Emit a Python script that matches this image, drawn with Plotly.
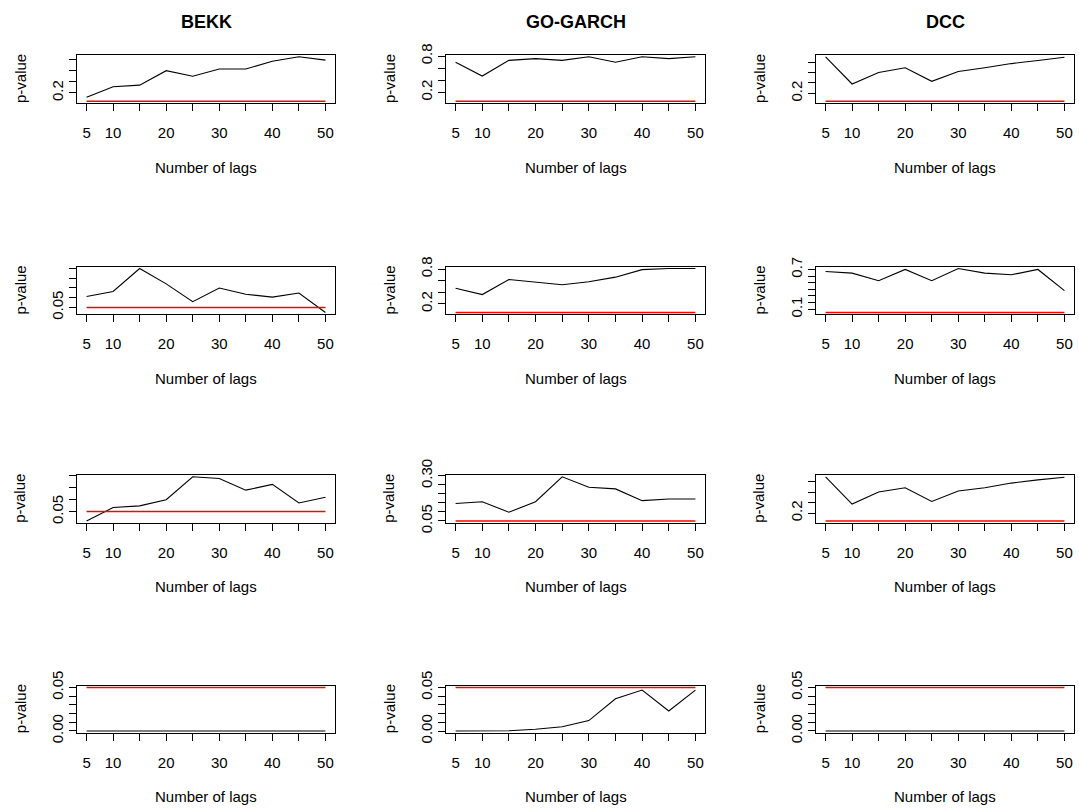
import plotly.graph_objects as go

lags = [5, 10, 15, 20, 25, 30, 35, 40, 45, 50]
x_tick_vals = [5, 10, 15, 20, 25, 30, 35, 40, 45, 50]
x_tick_text = ["5", "10", "", "20", "", "30", "", "40", "", "50"]
col_titles = ["BEKK", "GO-GARCH", "DCC"]
threshold = 0.05

# p-values (rows top to bottom, columns BEKK / GO-GARCH / DCC)
bekk_r1 = [0.12, 0.31, 0.34, 0.60, 0.50, 0.63, 0.63, 0.77, 0.85, 0.79]
gogarch_r1 = [0.70, 0.47, 0.73, 0.76, 0.73, 0.79, 0.70, 0.79, 0.76, 0.79]
dcc_r1 = [0.90, 0.38, 0.60, 0.69, 0.43, 0.62, 0.69, 0.77, 0.83, 0.89]

bekk_r2 = [0.106, 0.132, 0.250, 0.171, 0.080, 0.150, 0.118, 0.103, 0.124, 0.024]
gogarch_r2 = [0.47, 0.36, 0.62, 0.58, 0.53, 0.58, 0.66, 0.79, 0.81, 0.81]
dcc_r2 = [0.67, 0.645, 0.53, 0.70, 0.53, 0.715, 0.645, 0.62, 0.70, 0.38]

bekk_r3 = [0.011, 0.067, 0.074, 0.100, 0.196, 0.189, 0.140, 0.164, 0.086, 0.110]
gogarch_r3 = [0.146, 0.156, 0.098, 0.156, 0.294, 0.236, 0.227, 0.162, 0.171, 0.171]
dcc_r3 = [0.89, 0.37, 0.60, 0.68, 0.42, 0.62, 0.68, 0.77, 0.83, 0.88]

bekk_r4 = [0, 0, 0, 0, 0, 0, 0, 0, 0, 0]
gogarch_r4 = [0.0001, 0.0001, 0.0003, 0.002, 0.005, 0.012, 0.037, 0.047, 0.023, 0.047]
dcc_r4 = [0, 0, 0, 0, 0, 0, 0, 0, 0, 0]

panels = [
    [bekk_r1, gogarch_r1, dcc_r1],
    [bekk_r2, gogarch_r2, dcc_r2],
    [bekk_r3, gogarch_r3, dcc_r3],
    [bekk_r4, gogarch_r4, dcc_r4],
]

yt_02 = ([0.2, 0.4, 0.6, 0.8], ["0.2", "", "", ""])
yt_0208 = ([0.2, 0.4, 0.6, 0.8], ["0.2", "", "", "0.8"])
y_ticks = [
    [yt_02, yt_0208, yt_02],
    [([0.05, 0.10, 0.15, 0.20, 0.25], ["0.05", "", "", "", ""]), yt_0208,
     ([0.1, 0.2, 0.3, 0.4, 0.5, 0.6, 0.7], ["0.1", "", "", "", "", "", "0.7"])],
    [([0.05, 0.10, 0.15, 0.20], ["0.05", "", "", ""]),
     ([0.05, 0.10, 0.15, 0.20, 0.25, 0.30], ["0.05", "", "", "", "", "0.30"]), yt_02],
    [([0, 0.01, 0.02, 0.03, 0.04, 0.05], ["0.00", "", "", "", "", "0.05"])] * 3,
]

W, H = 1079, 809
col_px = [(77, 335), (446, 705), (816, 1074)]
row_px = [(55, 103), (266.7, 314.3), (475, 522.7), (685.7, 732.7)]

FONT = "Liberation Sans, Arial, sans-serif"
fig = go.Figure()
annotations = []

k = 0
for r in range(4):
    for c in range(3):
        k += 1
        vals = panels[r][c]
        xa = "x" if k == 1 else f"x{k}"
        ya = "y" if k == 1 else f"y{k}"
        fig.add_trace(go.Scatter(x=lags, y=vals, mode="lines",
                                 line=dict(color="black", width=1.1),
                                 xaxis=xa, yaxis=ya, showlegend=False, hoverinfo="skip"))
        fig.add_trace(go.Scatter(x=lags, y=[threshold] * len(lags), mode="lines",
                                 line=dict(color="#ff0000", width=1.5),
                                 xaxis=xa, yaxis=ya, showlegend=False, hoverinfo="skip"))
        lo = min(min(vals), threshold)
        hi = max(max(vals), threshold)
        pad = 0.04 * (hi - lo)
        x0, x1 = col_px[c]
        t, b = row_px[r]
        xd = [x0 / W, x1 / W]
        yd = [1 - b / H, 1 - t / H]
        tv, tt = y_ticks[r][c]
        axis_common = dict(showgrid=False, zeroline=False, showline=True, mirror=True,
                           automargin=False,
                           linecolor="black", linewidth=1, ticks="outside", ticklen=7,
                           tickwidth=1, tickcolor="black",
                           tickfont=dict(family=FONT, size=15, color="black"))
        fig.update_layout(**{
            ("xaxis" if k == 1 else f"xaxis{k}"): dict(
                domain=xd, anchor=ya, range=[3.2, 51.8], tickmode="array",
                tickvals=x_tick_vals, ticktext=x_tick_text, ticklabelstandoff=9,
                **axis_common),
            ("yaxis" if k == 1 else f"yaxis{k}"): dict(
                domain=yd, anchor=xa, range=[lo - pad, hi + pad], tickmode="array",
                tickvals=tv, ticktext=tt, tickangle=-90, ticklabelstandoff=0,
                **axis_common),
        })
        annotations.append(dict(x=(x0 + x1) / 2 / W, y=1 - (b + 64) / H, xref="paper", yref="paper",
                                text="Number of lags", showarrow=False,
                                font=dict(family=FONT, size=15, color="black"),
                                xanchor="center", yanchor="middle"))
        annotations.append(dict(x=(x0 - 57) / W, y=1 - (t + b) / 2 / H, xref="paper", yref="paper",
                                text="p-value", showarrow=False, textangle=-90,
                                font=dict(family=FONT, size=15, color="black"),
                                xanchor="center", yanchor="middle"))

for c in range(3):
    x0, x1 = col_px[c]
    annotations.append(dict(x=(x0 + x1) / 2 / W, y=1 - 22 / H, xref="paper", yref="paper",
                            text=f"<b>{col_titles[c]}</b>", showarrow=False,
                            font=dict(family=FONT, size=18, color="black"),
                            xanchor="center", yanchor="middle"))

fig.update_layout(width=W, height=H, margin=dict(l=0, r=0, t=0, b=0, autoexpand=False),
                  paper_bgcolor="white", plot_bgcolor="white",
                  annotations=annotations, showlegend=False)

fig.write_html("out.html", config={"displayModeBar": False, "staticPlot": True},
               post_script="document.body.style.margin='0';document.body.style.overflow='hidden';")
